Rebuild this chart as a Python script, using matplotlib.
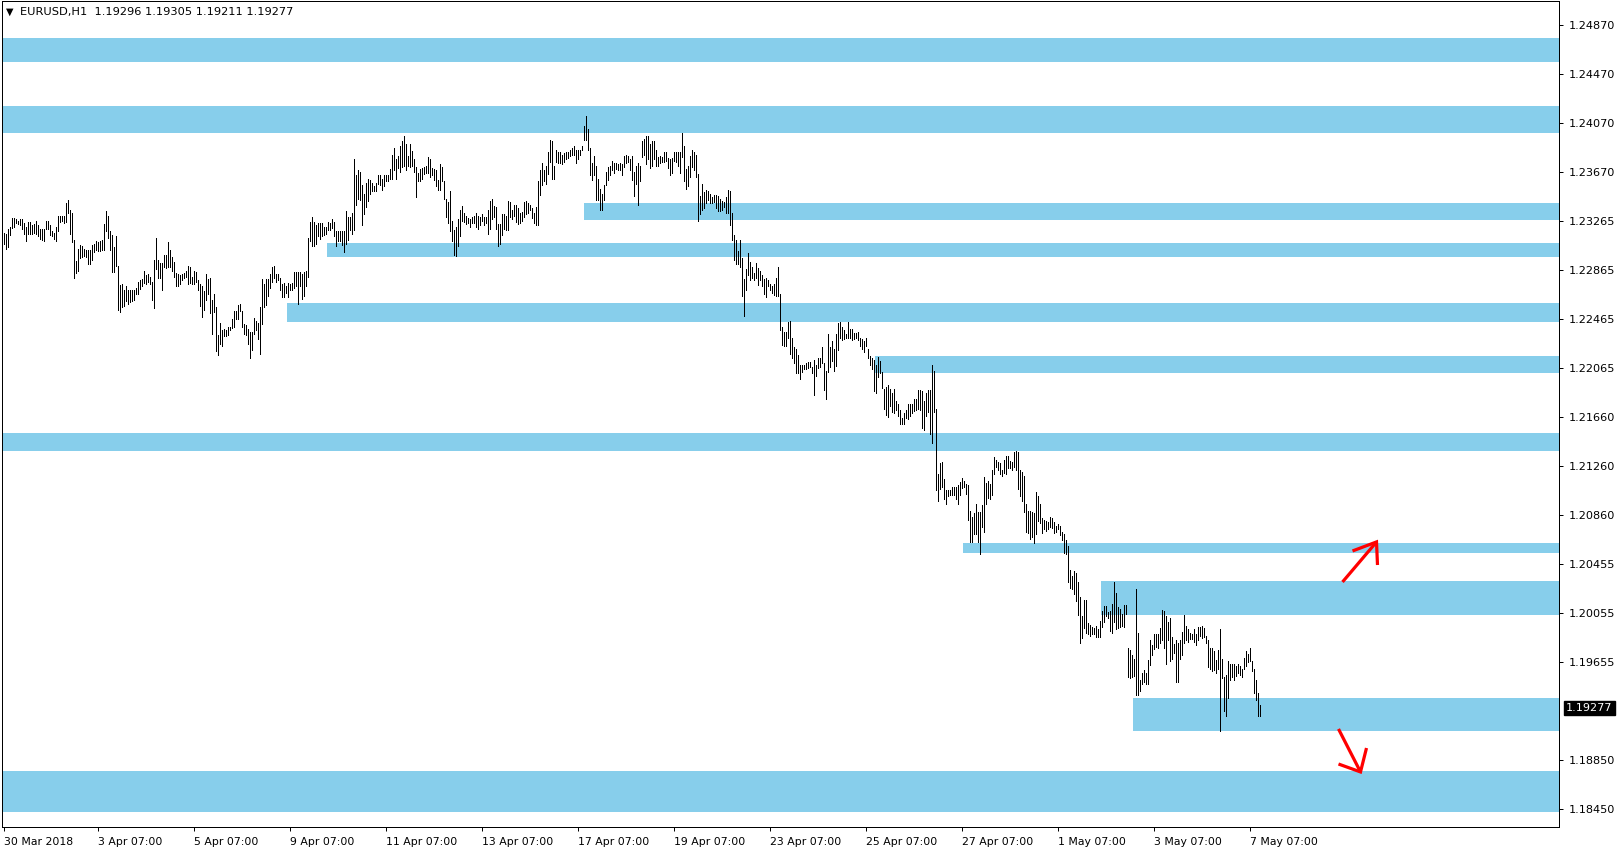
import numpy as np
import matplotlib
matplotlib.use("Agg")
import matplotlib.pyplot as plt

# ── Data: EURUSD H1 bar highs / lows, in pips (price * 1e4), bar 0 = 30 Mar 2018 ──
high_pips = [
    12317, 12316, 12320, 12322, 12329, 12329, 12328, 12327, 12328, 12328,  # 0
    12325, 12322, 12326, 12326, 12323, 12324, 12327, 12323, 12320, 12320,
    12320, 12327, 12327, 12323, 12318, 12317, 12322, 12331, 12331, 12331,
    12331, 12341, 12344, 12336, 12333, 12311, 12294, 12304, 12307, 12306,
    12304, 12303, 12303, 12303, 12307, 12308, 12310, 12309, 12310, 12311,
    12324, 12335, 12331, 12318, 12315, 12305, 12314, 12290, 12274, 12275,  # 50
    12270, 12273, 12270, 12270, 12270, 12270, 12272, 12277, 12278, 12279,
    12286, 12282, 12283, 12281, 12277, 12295, 12313, 12295, 12292, 12292,
    12299, 12299, 12309, 12303, 12297, 12293, 12284, 12283, 12282, 12283,
    12284, 12286, 12290, 12289, 12281, 12286, 12285, 12278, 12275, 12273,
    12269, 12283, 12279, 12280, 12262, 12267, 12256, 12233, 12243, 12237,  # 100
    12238, 12237, 12240, 12240, 12246, 12253, 12253, 12258, 12259, 12253,
    12242, 12241, 12238, 12236, 12236, 12247, 12245, 12243, 12256, 12279,
    12275, 12279, 12279, 12283, 12289, 12290, 12283, 12283, 12280, 12275,
    12276, 12273, 12276, 12275, 12276, 12285, 12285, 12285, 12285,
    12283, 12285, 12286, 12313, 12326, 12330, 12326, 12323, 12325, 12325,  # 149
    12325, 12322, 12322, 12326, 12325, 12328, 12326, 12318, 12318, 12318,
    12318, 12318, 12335, 12330, 12330, 12333, 12377, 12364, 12368, 12367,
    12356, 12349, 12358, 12361, 12360, 12358, 12355, 12358, 12364, 12364,
    12361, 12364, 12364, 12364, 12369, 12381, 12386, 12377, 12380, 12388,
    12392, 12396, 12390, 12380, 12390, 12384, 12377, 12371, 12366, 12369,  # 199
    12370, 12371, 12372, 12379, 12377, 12370, 12369, 12368, 12360, 12373,
    12371, 12359, 12345, 12342, 12351, 12327, 12319, 12322, 12328, 12336,
    12339, 12333, 12331, 12329, 12328, 12330, 12331, 12333, 12331, 12330,
    12332, 12330, 12330, 12336, 12343, 12345, 12339, 12338, 12324, 12324,
    12332, 12332, 12331, 12343, 12342, 12336, 12340, 12340, 12337, 12333,  # 249
    12334, 12342, 12343, 12341, 12340, 12337, 12333, 12338, 12359, 12368,
    12374, 12368, 12372, 12383, 12393, 12392, 12372, 12385, 12383, 12383,
    12381, 12382, 12383, 12383, 12385, 12386, 12388, 12385, 12385, 12385,
    12388, 12404, 12413, 12402, 12386, 12374, 12380, 12372, 12361, 12353,
    12349, 12356, 12367, 12371, 12372,                                      # 299
    12376, 12374, 12374, 12373, 12374, 12373, 12380, 12381, 12380, 12377,  # 304
    12380, 12367, 12372, 12374, 12372, 12392, 12394, 12396, 12396, 12390,
    12392, 12392, 12385, 12379, 12380, 12379, 12383, 12383, 12378, 12377,
    12378, 12383, 12383, 12383, 12383, 12399, 12388, 12369, 12372, 12380,
    12385, 12383, 12381, 12365, 12347, 12357, 12350, 12352, 12351, 12349,
    12346, 12348, 12348, 12347, 12345, 12343, 12342, 12346, 12352, 12351,  # 354
    12333, 12315, 12311, 12302, 12311, 12296, 12279, 12287, 12300, 12293,
    12289, 12284, 12292, 12288, 12286, 12282, 12279, 12280, 12278, 12275,
    12273, 12275, 12280, 12289, 12267, 12240, 12236, 12236, 12244, 12245,
    12231, 12223, 12222, 12217, 12209, 12209, 12209, 12210, 12211, 12211,
    12207, 12213, 12209, 12214, 12214, 12223, 12210, 12204, 12234, 12223,  # 404
    12228, 12222, 12234, 12243, 12244, 12240, 12237, 12234, 12244, 12238,
    12238, 12235, 12235, 12236, 12231, 12230, 12228, 12231, 12222, 12216,
    12214, 12213, 12209, 12215, 12212, 12203, 12189, 12191, 12192, 12189,
    12186, 12189, 12179, 12177, 12172, 12165, 12169, 12172, 12177, 12177,
    12177, 12181, 12181, 12188,                                             # 454
    12188, 12187, 12179, 12186, 12188, 12188, 12209, 12204, 12173, 12119,  # 458
    12128, 12129, 12115, 12106, 12106, 12106, 12109, 12109, 12109, 12110,
    12113, 12116, 12114, 12111, 12110, 12089, 12084, 12087, 12095, 12088,
    12088, 12094, 12117, 12112, 12114, 12111, 12123, 12133, 12131, 12129,
    12128, 12123, 12131, 12134, 12134, 12130, 12129, 12137, 12138, 12137,
    12123, 12121, 12118, 12095, 12089, 12089, 12088, 12087, 12105, 12101,  # 508
    12095, 12083, 12082, 12081, 12080, 12084, 12083, 12080, 12077, 12078,
    12077, 12072, 12070, 12065, 12060, 12041,
    12036, 12040, 12038, 12031, 12019, 12003, 12016, 12016, 11997, 11996,  # 534
    11994, 11993, 11995, 11992, 11999, 12007, 12011, 12011, 12006, 12007,
    12013, 12031, 12022, 12010, 12009, 12005, 12012, 12012, 11977, 11975,
    11971, 11968, 12025, 11989, 11951, 11956, 11959, 11956, 11967, 11983,
    11979, 11988, 11988, 11988, 11993, 12008, 12007, 12003, 11998, 12001,
    11986, 11980, 11983, 11981, 11983, 11990, 12004, 11995, 11992, 11989,  # 584
    11988, 11992, 11988, 11994, 11994, 11995, 11993, 11987, 11983, 11977,
    11977, 11974, 11967, 11975, 11992, 11968, 11953, 11955, 11966, 11964,
    11964, 11964, 11962, 11964, 11962, 11960, 11969, 11974, 11972, 11977,
    11966, 11960, 11951, 11940, 11930,
]
low_pips = [
    12308, 12304, 12305, 12315, 12321, 12322, 12325, 12324, 12323, 12320,  # 0
    12316, 12310, 12316, 12316, 12316, 12317, 12316, 12314, 12312, 12311,
    12310, 12320, 12320, 12315, 12314, 12312, 12310, 12318, 12326, 12327,
    12325, 12326, 12333, 12316, 12309, 12280, 12284, 12286, 12296, 12297,
    12298, 12297, 12291, 12291, 12295, 12301, 12303, 12302, 12302, 12303,
    12303, 12318, 12313, 12303, 12285, 12285, 12290, 12254, 12252, 12256,  # 50
    12257, 12261, 12259, 12260, 12261, 12262, 12267, 12267, 12271, 12273,
    12276, 12275, 12277, 12275, 12262, 12255, 12287, 12280, 12280, 12270,
    12289, 12288, 12289, 12289, 12286, 12281, 12273, 12273, 12275, 12278,
    12280, 12281, 12275, 12276, 12275, 12275, 12277, 12270, 12257, 12248,
    12254, 12262, 12267, 12251, 12234, 12252, 12220, 12217, 12226, 12224,  # 100
    12232, 12232, 12233, 12237, 12239, 12240, 12246, 12246, 12253, 12240,
    12234, 12233, 12226, 12214, 12221, 12234, 12237, 12230, 12218, 12242,
    12256, 12258, 12265, 12272, 12277, 12280, 12277, 12278, 12270, 12264,
    12264, 12268, 12264, 12270, 12270, 12272, 12273, 12259, 12273,
    12263, 12265, 12273, 12281, 12310, 12306, 12306, 12308, 12314, 12312,  # 149
    12314, 12315, 12316, 12319, 12319, 12321, 12314, 12306, 12310, 12310,
    12307, 12301, 12308, 12311, 12319, 12316, 12319, 12340, 12345, 12344,
    12323, 12332, 12338, 12343, 12349, 12351, 12351, 12351, 12357, 12356,
    12352, 12355, 12359, 12359, 12361, 12361, 12368, 12361, 12370, 12367,
    12371, 12372, 12368, 12372, 12371, 12372, 12367, 12346, 12359, 12359,  # 199
    12361, 12365, 12366, 12366, 12363, 12364, 12360, 12355, 12352, 12352,
    12359, 12345, 12330, 12325, 12318, 12310, 12299, 12298, 12306, 12314,
    12327, 12326, 12324, 12325, 12322, 12325, 12325, 12322, 12320, 12323,
    12327, 12323, 12325, 12316, 12320, 12328, 12330, 12320, 12306, 12308,
    12315, 12320, 12319, 12319, 12330, 12328, 12331, 12326, 12324, 12325,  # 249
    12327, 12330, 12332, 12333, 12336, 12329, 12325, 12323, 12323, 12348,
    12356, 12359, 12357, 12365, 12375, 12361, 12361, 12375, 12374, 12374,
    12373, 12375, 12377, 12378, 12380, 12381, 12381, 12374, 12377, 12381,
    12385, 12393, 12393, 12385, 12364, 12360, 12364, 12344, 12344, 12336,
    12336, 12344, 12356, 12360, 12364,                                      # 299
    12368, 12366, 12369, 12368, 12368, 12364, 12371, 12374, 12375, 12368,  # 304
    12360, 12347, 12357, 12340, 12359, 12379, 12381, 12373, 12377, 12370,
    12372, 12377, 12372, 12372, 12374, 12375, 12375, 12376, 12370, 12364,
    12366, 12376, 12375, 12372, 12366, 12379, 12359, 12353, 12355, 12363,
    12371, 12368, 12363, 12327, 12332, 12336, 12337, 12341, 12344, 12341,
    12341, 12342, 12337, 12335, 12335, 12336, 12338, 12333, 12333, 12323,  # 354
    12311, 12295, 12291, 12291, 12289, 12265, 12249, 12270, 12282, 12278,
    12280, 12278, 12280, 12274, 12278, 12273, 12267, 12264, 12273, 12270,
    12268, 12266, 12265, 12265, 12237, 12225, 12224, 12224, 12231, 12218,
    12214, 12210, 12202, 12202, 12197, 12203, 12205, 12205, 12206, 12207,
    12202, 12184, 12200, 12206, 12207, 12210, 12188, 12181, 12203, 12207,  # 404
    12212, 12204, 12208, 12221, 12231, 12229, 12230, 12231, 12231, 12231,
    12229, 12230, 12231, 12229, 12224, 12222, 12219, 12224, 12214, 12209,
    12205, 12187, 12186, 12199, 12202, 12190, 12173, 12168, 12166, 12175,
    12170, 12169, 12172, 12167, 12160, 12160, 12160, 12165, 12164, 12167,
    12169, 12171, 12172, 12173,                                             # 454
    12172, 12157, 12155, 12167, 12170, 12152, 12145, 12170, 12106, 12097,  # 458
    12107, 12109, 12099, 12095, 12101, 12102, 12102, 12102, 12099, 12095,
    12102, 12108, 12109, 12103, 12082, 12064, 12064, 12070, 12070, 12064,
    12054, 12076, 12072, 12095, 12100, 12099, 12102, 12119, 12125, 12123,
    12119, 12118, 12120, 12119, 12124, 12124, 12123, 12125, 12123, 12107,
    12101, 12097, 12088, 12072, 12071, 12066, 12068, 12063, 12070, 12081,  # 508
    12079, 12071, 12074, 12073, 12074, 12076, 12075, 12071, 12072, 12074,
    12069, 12065, 12055, 12054, 12031, 12026,
    12025, 12021, 12015, 12004, 11981, 11985, 11993, 11989, 11988, 11987,  # 534
    11988, 11988, 11986, 11986, 11986, 11994, 11998, 12003, 12001, 11991,
    11989, 11998, 11992, 11993, 11994, 11995, 11994, 12005, 11953, 11952,
    11953, 11954, 11938, 11938, 11942, 11947, 11949, 11947, 11947, 11963,
    11971, 11976, 11978, 11977, 11981, 11983, 11977, 11964, 11983, 11966,
    11968, 11973, 11949, 11949, 11968, 11971, 11981, 11983, 11982, 11984,  # 584
    11984, 11982, 11979, 11983, 11987, 11985, 11986, 11981, 11961, 11960,
    11958, 11959, 11956, 11960, 11909, 11952, 11925, 11921, 11936, 11951,
    11953, 11951, 11954, 11956, 11955, 11953, 11960, 11962, 11965, 11966,
    11958, 11940, 11934, 11921, 11921,
]

# support / resistance zones drawn on the chart (price low, price high, first bar)
zone_lo = [1.24568, 1.23987, 1.23274, 1.22971, 1.22439, 1.22021, 1.21382, 1.20547, 1.20039, 1.19089, 1.18425]
zone_hi = [1.24765, 1.24208, 1.23413, 1.23086, 1.22594, 1.22160, 1.21530, 1.20629, 1.20317, 1.19359, 1.18761]
zone_start = [None, None, 290, 161.5, 141.5, 435.5, None, 479.5, 548.5, 564.5, None]

price_ticks = [1.24870, 1.24470, 1.24070, 1.23670, 1.23265, 1.22865, 1.22465, 1.22065,
               1.21660, 1.21260, 1.20860, 1.20455, 1.20055, 1.19655, 1.18850, 1.18450]
date_bars = [0, 47, 95, 143, 191, 239, 287, 335, 383, 431, 479, 527, 575, 623]
date_labels = ["30 Mar 2018", "3 Apr 07:00", "5 Apr 07:00", "9 Apr 07:00", "11 Apr 07:00",
               "13 Apr 07:00", "17 Apr 07:00", "19 Apr 07:00", "23 Apr 07:00", "25 Apr 07:00",
               "27 Apr 07:00", "1 May 07:00", "3 May 07:00", "7 May 07:00"]

last_price = 1.19277
header = "EURUSD,H1  1.19296 1.19305 1.19211 1.19277"

# hand-drawn red arrows (bar, price): shaft and head
up_shaft = ([669.5, 686.5], [1.20309, 1.20637])
up_head = ([674.5, 686.5, 687.0], [1.20563, 1.20637, 1.20448])
dn_shaft = ([667.5, 678.5], [1.19105, 1.18753])
dn_head = ([667.5, 678.5, 681.5], [1.18818, 1.18753, 1.18949])

ZONE_COLOR = "#87CEEB"
W, H = 1619, 852
PX = 72 / 100  # one pixel in points

high = np.array(high_pips) / 1e4
low = np.array(low_pips) / 1e4
assert len(high) == len(low)
bars = np.arange(len(high))

fig = plt.figure(figsize=(W / 100, H / 100), dpi=100)
ax = fig.add_axes([2 / W, 25 / H, 1557 / W, 826 / H])
x_left, x_right = -0.75, 777.75
ax.set_xlim(x_left, x_right)
ax.set_ylim(1.18302, 1.25068)

# zones behind the bars
for lo, hi, start in zip(zone_lo, zone_hi, zone_start):
    x0 = x_left if start is None else start
    ax.fill_between([x0, x_right], lo, hi, color=ZONE_COLOR, lw=0, zorder=1)

# bar chart (high-low)
ax.vlines(bars, low, high, colors="black", linewidth=1.0 * PX, antialiased=False, zorder=3)

# arrows
for xs, ys in (up_shaft, up_head, dn_shaft, dn_head):
    ax.plot(xs, ys, color="red", lw=3.2 * PX, solid_capstyle="butt",
            solid_joinstyle="miter", zorder=4)

# axes styling (MT4-like)
for s in ax.spines.values():
    s.set_linewidth(PX)
    s.set_color("black")
ax.yaxis.tick_right()
ax.set_yticks(price_ticks)
ax.set_yticklabels([f"{p:.5f}" for p in price_ticks])
ax.tick_params(axis="y", direction="out", length=3, width=PX, pad=4, labelsize=8.1)
ax.set_xticks(date_bars)
ax.set_xticklabels(date_labels, ha="left")
ax.tick_params(axis="x", direction="out", length=3, width=PX, pad=4, labelsize=7.8)

# last price tag
ax.annotate(f"{last_price:.5f}", xy=(1.0, last_price), xycoords=("axes fraction", "data"),
            xytext=(7 * PX, 0), textcoords="offset points", ha="left", va="center",
            color="white", fontsize=8.1,
            bbox=dict(boxstyle="square,pad=0.2", fc="black", ec="black"))

# header
fig.text(6 / W, 1 - 12 / H, "\u25bc", fontsize=7, va="center", ha="left")
fig.text(20 / W, 1 - 12 / H, header, fontsize=8.2, va="center", ha="left")

fig.savefig("out.png", dpi=100)
plt.close(fig)
